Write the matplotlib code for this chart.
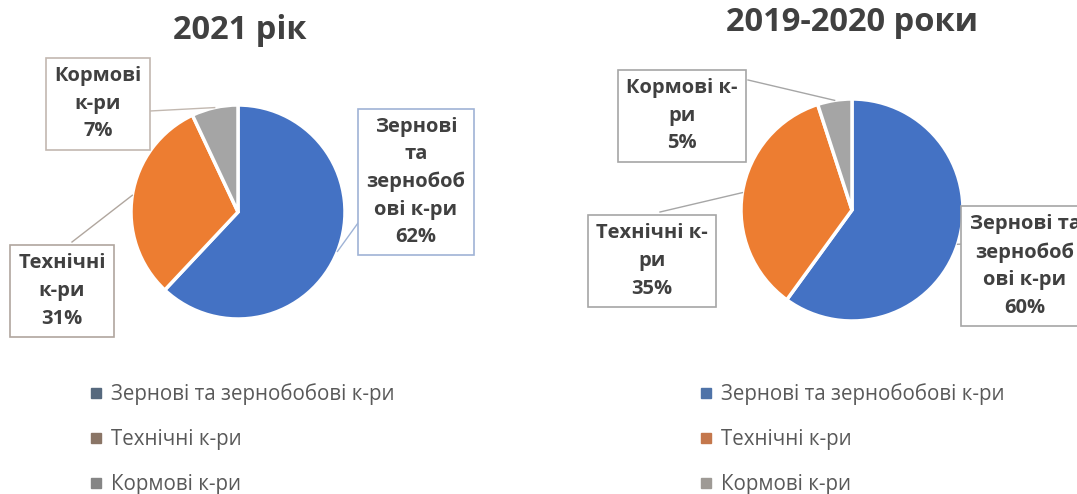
import numpy as np
import matplotlib
matplotlib.use("Agg")
import matplotlib.pyplot as plt
from matplotlib.lines import Line2D

plt.rcParams['font.family'] = ['Open Sans', 'DejaVu Sans']

# data
categories = ["Зернові та зернобобові к-ри", "Технічні к-ри", "Кормові к-ри"]
share_2021 = [62, 31, 7]
share_2019 = [60, 35, 5]
titles = ["2021 рік", "2019-2020 роки"]
labels_2021 = ["Зернові\nта\nзернобоб\nові к-ри\n62%", "Технічні\nк-ри\n31%", "Кормові\nк-ри\n7%"]
labels_2019 = ["Зернові та\nзернобоб\nові к-ри\n60%", "Технічні к-\nри\n35%", "Кормові к-\nри\n5%"]

colors = ["#4472C4", "#ED7D31", "#A5A5A5"]
legend_colors = [["#56697e", "#8a7566", "#858585"], ["#4f73a8", "#c4774c", "#9e9a95"]]
text_col = "#404040"

W, H = 1077, 494
fig = plt.figure(figsize=(W / 100, H / 100), dpi=100)
ax = fig.add_axes([0, 0, 1, 1])


def py(y):
    # pixel row (top origin) -> data y
    return H - y


charts = [
    dict(vals=share_2021, labels=labels_2021, cx=238, cy=212, r=107, title_x=240, title_y=31,
         boxes=[(416, 182, "#9fb3d6"), (62, 291, "#b0a69e"), (98, 104, "#c2b8b0")],
         starts=[(358, 223), (72, 242), (150, 111)],
         leg_x=89, lc=legend_colors[0]),
    dict(vals=share_2019, labels=labels_2019, cx=852, cy=210, r=111, title_x=852, title_y=23,
         boxes=[(1025, 266, "#a6a6a6"), (652, 261, "#a6a6a6"), (682, 116, "#a6a6a6")],
         starts=[(963, 244), (660, 212), (748, 80)],
         leg_x=699, lc=legend_colors[1]),
]

for ch, title in zip(charts, titles):
    wedges, _ = ax.pie(ch["vals"], colors=colors, startangle=90, counterclock=False,
                       center=(ch["cx"], py(ch["cy"])), radius=ch["r"],
                       wedgeprops=dict(edgecolor="white", linewidth=2.5))
    ax.text(ch["title_x"], py(ch["title_y"]), title, ha="center", va="center",
            fontsize=23.5, fontweight="bold", color=text_col)
    for w, lab, (bx, by, ec), (sx, sy) in zip(wedges, ch["labels"], ch["boxes"], ch["starts"]):
        mid = np.deg2rad((w.theta1 + w.theta2) / 2)
        ex = ch["cx"] + ch["r"] * np.cos(mid)
        ey = py(ch["cy"]) + ch["r"] * np.sin(mid)
        ax.plot([sx, ex], [py(sy), ey], color=ec, lw=1, zorder=1)
        ax.text(bx, py(by), lab, ha="center", va="center", fontsize=14.5, fontweight="bold",
                color=text_col, linespacing=1.5, zorder=5,
                bbox=dict(boxstyle="square,pad=0.4", fc="white", ec=ec, lw=1.2))
    handles = [Line2D([], [], marker="s", ls="", ms=7, color=c) for c in ch["lc"]]
    ax.legend(handles, categories, loc="upper left", frameon=False, fontsize=14.8,
              labelcolor="#595959", handlelength=0.7, handletextpad=0.35, labelspacing=1.18,
              borderpad=0, borderaxespad=0,
              bbox_to_anchor=(ch["leg_x"] / W, 1 - 383 / H))
    if ch is charts[0]:
        ax.add_artist(ax.get_legend())

ax.set_xlim(0, W)
ax.set_ylim(0, H)
ax.set_aspect("auto")
ax.axis("off")

fig.savefig("out.png", dpi=100)
